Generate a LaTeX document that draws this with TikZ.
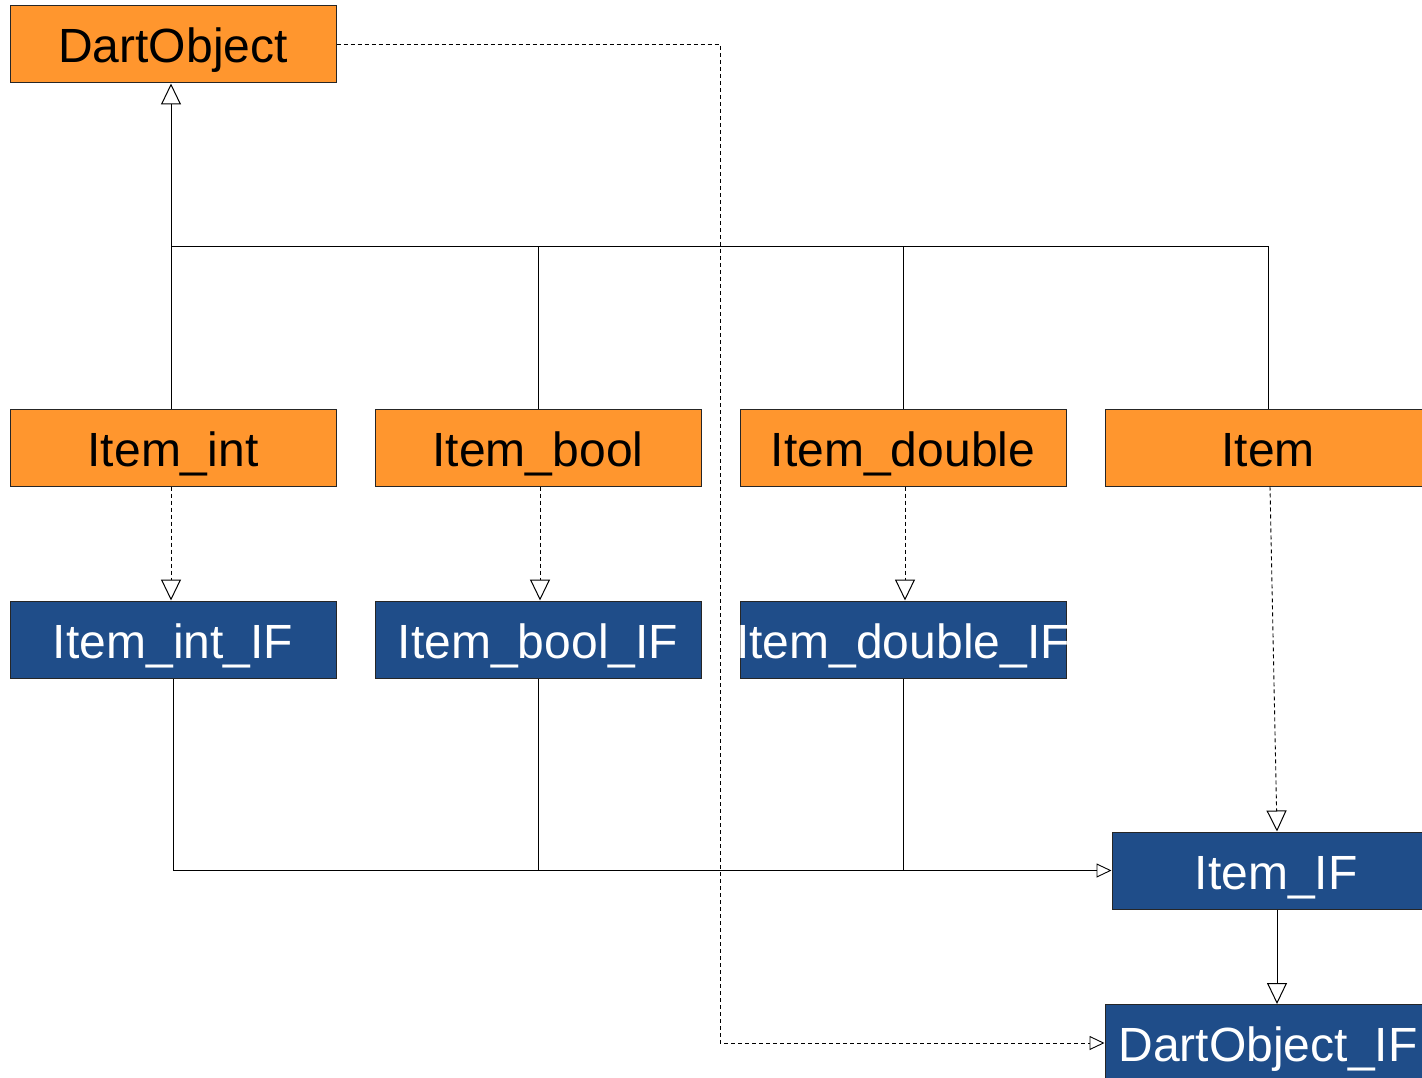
\documentclass[tikz,border=0pt]{standalone}
\usepackage{fontspec}
\setmainfont{Liberation Sans}
\usetikzlibrary{arrows.meta}
\definecolor{boxorange}{RGB}{255,150,46}
\definecolor{boxblue}{RGB}{31,77,137}
\begin{document}
\begin{tikzpicture}[x=1pt,y=-1pt,
  cls/.style={draw=black!85, line width=1pt, minimum width=326pt, minimum height=77pt,
    inner sep=0pt, text height=42pt, text depth=5pt,
    font=\fontsize{48}{56}\selectfont, anchor=center},
  impl/.style={cls, fill=boxorange, text=black},
  iface/.style={cls, fill=boxblue, text=white},
  conn/.style={line width=0.9pt, draw=black},
  dsh/.style={conn, dash pattern=on 4pt off 3pt},
  bigtip/.style={-{Triangle[open, length=21pt, width=20pt, line width=1pt]}},
  smalltip/.style={-{Triangle[open, length=15pt, width=14pt, line width=0.9pt]}}]
\useasboundingbox (0,0) rectangle (1422,1078);
\clip (0,0) rectangle (1422,1078);
\node[impl] (dart) at (173,44.5) {DartObject};
\node[impl] (itemint) at (173,447.5) {Item\_int};
\node[impl] (itembool) at (538,447.5) {Item\_bool};
\node[impl] (itemdouble) at (903,447.5) {Item\_double};
\node[impl] (item) at (1268,447.5) {Item};
\node[iface] (itemintif) at (173,639.5) {Item\_int\_IF};
\node[iface] (itemboolif) at (538,639.5) {Item\_bool\_IF};
\node[iface] (itemdoubleif) at (903,639.5) {\makebox[300pt]{Item\_double\_IF}};
\node[iface, minimum width=328pt] (itemif) at (1276,870.5) {Item\_IF};
\node[iface] (dartif) at (1268,1043) {DartObject\_IF};
% inheritance tree
\coordinate (j) at (171,246);
\draw[conn, bigtip] (itemint.north -| j) -- (dart.south -| j);
\draw[conn] (item.north) |- (j);
\draw[conn] (itembool.north) -- (itembool.north |- j);
\draw[conn] (itemdouble.north) -- (itemdouble.north |- j);
% realisation
\draw[dsh, bigtip] ([xshift=-2pt]itemint.south) -- ([xshift=-2pt]itemintif.north);
\draw[dsh, bigtip] ([xshift=2pt]itembool.south) -- ([xshift=2pt]itemboolif.north);
\draw[dsh, bigtip] ([xshift=2pt]itemdouble.south) -- ([xshift=2pt]itemdoubleif.north);
\draw[dsh, bigtip] ([xshift=2pt]item.south) -- ([xshift=1pt]itemif.north);
% interfaces to Item_IF
\draw[conn, smalltip] (itemintif.south) |- (itemif.west);
\draw[conn] (itemboolif.south) -- (itemboolif.south |- itemif.west);
\draw[conn] (itemdoubleif.south) -- (itemdoubleif.south |- itemif.west);
\draw[conn, bigtip] ([xshift=1pt]itemif.south) -- ([xshift=1pt]itemif.south |- dartif.north);
% DartObject to DartObject_IF
\coordinate (k) at (720,44.5);
\draw[dsh, smalltip] (dart.east) -- (k) |- (dartif.west);
\end{tikzpicture}
\end{document}
